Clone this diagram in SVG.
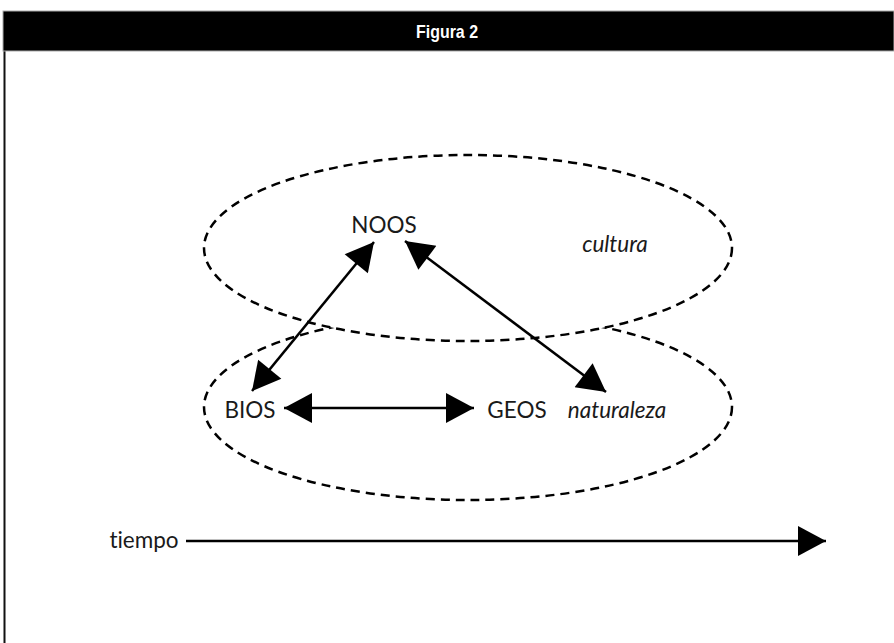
<svg xmlns="http://www.w3.org/2000/svg" width="894" height="643" viewBox="0 0 894 643">
  <style>
    .lbl { font-family: Lato, "Liberation Sans", sans-serif; font-size: 22.5px; fill: #1a1a1a; font-variant-ligatures: none; }
    .it { font-style: italic; }
    .zone { fill: none; stroke: #000; stroke-width: 2.5; stroke-dasharray: 9 6; }
    .link { stroke: #000; stroke-width: 2.5; fill: none; marker-end: url(#head); marker-start: url(#head); }
    .title { font-family: "Liberation Sans Narrow", "Liberation Sans", sans-serif; font-stretch: condensed; font-weight: bold; font-size: 19px; fill: #fff; }
  </style>
  <defs>
    <marker id="head" markerUnits="userSpaceOnUse" markerWidth="30" markerHeight="30" viewBox="0 0 28 30" refX="28" refY="15" orient="auto-start-reverse">
      <path d="M0,0 L28,15 L0,30 z" fill="#000"/>
    </marker>
  </defs>

  <rect width="894" height="643" fill="#fff"/>

  <!-- frame and title bar -->
  <g id="frame">
    <line x1="4.5" y1="50" x2="4.5" y2="643" stroke="#111" stroke-width="2"/>
    <rect x="3" y="11" width="891" height="40" fill="#000" stroke="#aaa" stroke-width="1"/>
    <text class="title" x="447" y="38" text-anchor="middle" textLength="62" lengthAdjust="spacingAndGlyphs">Figura 2</text>
  </g>

  <!-- dashed zones: naturaleza below, cultura on top (white fill hides the overlap) -->
  <g id="zone-naturaleza">
    <ellipse class="zone" cx="468" cy="407" rx="264" ry="93"/>
  </g>
  <g id="zone-cultura">
    <ellipse class="zone" cx="468" cy="248" rx="264" ry="93" style="fill:#fff"/>
  </g>

  <g id="node-noos"><text class="lbl" x="384" y="233" text-anchor="middle">NOOS</text></g>
  <g id="node-cultura"><text class="lbl it" x="615" y="252" text-anchor="middle">cultura</text></g>
  <g id="node-bios"><text class="lbl" x="250" y="418" text-anchor="middle">BIOS</text></g>
  <g id="node-geos"><text class="lbl" x="517" y="418" text-anchor="middle">GEOS</text></g>
  <g id="node-naturaleza"><text class="lbl it" x="617" y="418" text-anchor="middle">naturaleza</text></g>
  <g id="node-tiempo"><text class="lbl" x="144" y="548" text-anchor="middle">tiempo</text></g>

  <!-- connectors -->
  <g id="connectors">
    <line class="link" x1="252" y1="391" x2="374" y2="242"/>
    <line class="link" x1="405" y1="241" x2="606" y2="392"/>
    <line class="link" x1="284" y1="408" x2="474" y2="408"/>
    <line x1="186" y1="541" x2="826" y2="541" stroke="#000" stroke-width="2.5" marker-end="url(#head)"/>
  </g>
</svg>
